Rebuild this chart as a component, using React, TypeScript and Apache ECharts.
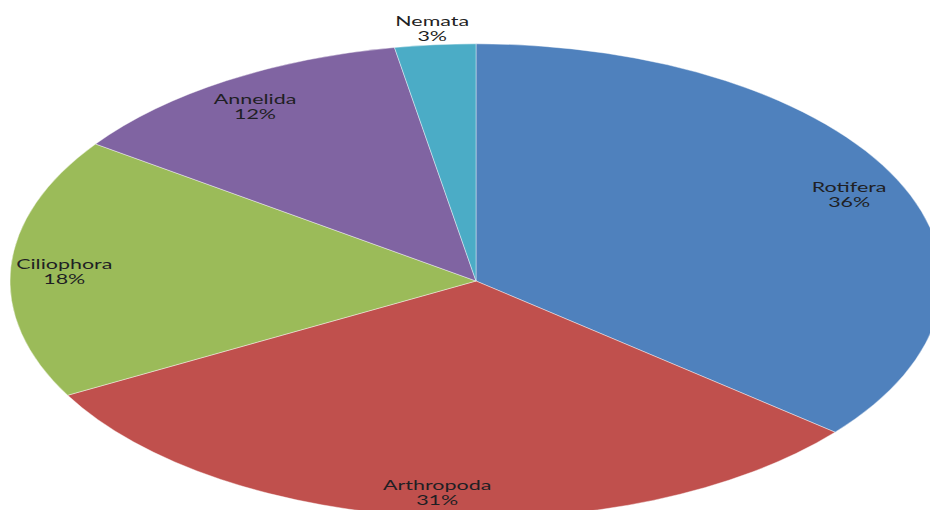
import React, { useEffect, useRef } from "react";
import * as echarts from "echarts";

const categories = ["Rotifera", "Arthropoda", "Ciliophora", "Annelida", "Nemata"];
const values = [36.0, 31.0, 17.8, 12.4, 2.8];
const colors = ["#4F81BD", "#C0504D", "#9BBB59", "#8064A2", "#4BACC6"];

export default function App() {
  const ref = useRef<HTMLDivElement>(null);
  useEffect(() => {
    if (!ref.current) return;
    const chart = echarts.init(ref.current, null, { renderer: "svg" });
    const total = values.reduce((a, b) => a + b, 0);
    const cum: number[] = [];
    let acc = 0;
    values.forEach((v) => {
      cum.push(acc);
      acc += v;
    });
    const CX = 476;
    const CY = 281;
    const RX = 466;
    const RY = 237;
    chart.setOption({
      animation: false,
      backgroundColor: "#ffffff",
      series: [
        {
          type: "custom",
          coordinateSystem: "none",
          data: values.map((v, i) => ({ name: categories[i], value: v })),
          renderItem: (params: any, api: any) => {
            const i = params.dataIndex;
            const v = api.value(0);
            const f0 = cum[i] / total;
            const f1 = (cum[i] + v) / total;
            const a0 = -Math.PI / 2 + f0 * Math.PI * 2;
            const a1 = -Math.PI / 2 + f1 * Math.PI * 2;
            const mid = (a0 + a1) / 2;
            const small = v / total < 0.05;
            const fr = small ? 1.07 : 0.885;
            const lx = CX + RX * fr * Math.cos(mid);
            const ly = CY + RY * fr * Math.sin(mid) + (small ? 0 : 3);
            const pct = Math.round((v / total) * 100);
            return {
              type: "group",
              children: [
                {
                  type: "sector",
                  x: CX,
                  y: CY,
                  scaleY: RY / RX,
                  shape: { cx: 0, cy: 0, r0: 0, r: RX, startAngle: a0, endAngle: a1, clockwise: true },
                  style: {
                    fill: colors[i],
                    stroke: "rgba(255,255,255,0.55)",
                    lineWidth: 1,
                    strokeNoScale: true,
                  },
                },
                {
                  type: "text",
                  x: lx,
                  y: ly,
                  scaleX: 1.65,
                  style: {
                    text: categories[i] + "\n" + pct + "%",
                    align: "center",
                    verticalAlign: "middle",
                    fontFamily: "Lato",
                    fontSize: 13,
                    lineHeight: 15,
                    fill: "#1f1f24",
                  },
                },
              ],
            };
          },
        },
      ],
    });
    return () => chart.dispose();
  }, []);
  return (
    <div
      ref={ref}
      style={{ position: "fixed", left: 0, top: 0, width: 930, height: 510 }}
    />
  );
}
